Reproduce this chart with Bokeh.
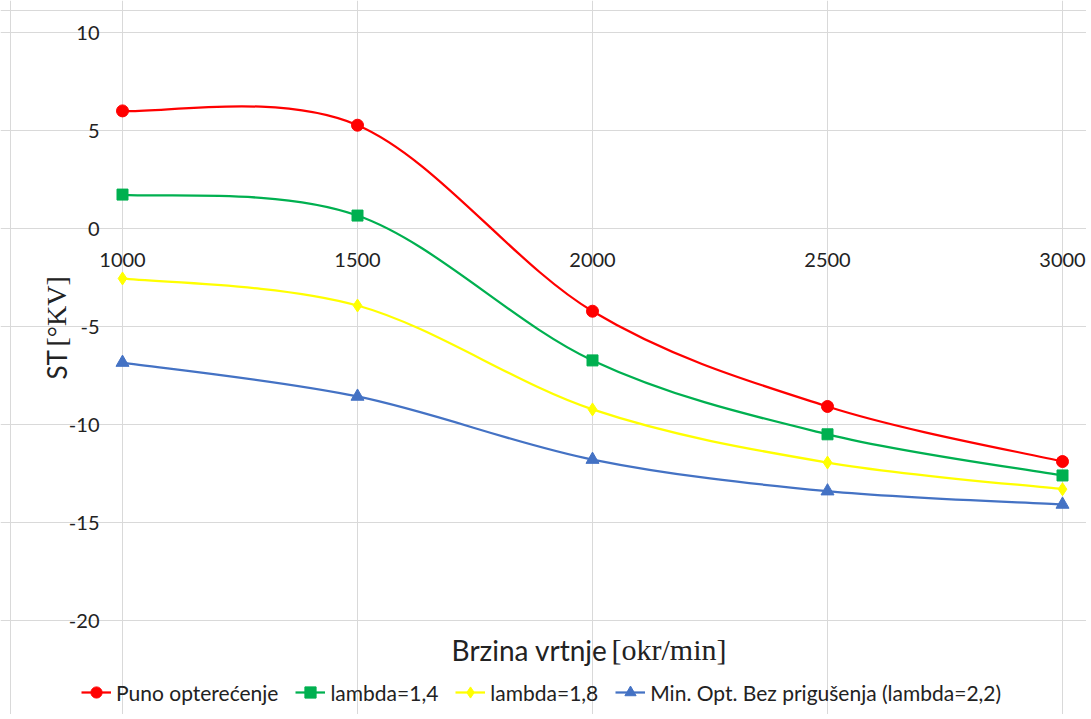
from bokeh.plotting import figure
from bokeh.models import Range1d, FixedTicker, Legend, LegendItem, Span
from bokeh.core.properties import value
from bokeh.embed import file_html
from bokeh.resources import INLINE

# ---- data ----
speeds = [1000, 1500, 2000, 2500, 3000]
x_tick_labels = ["1000", "1500", "2000", "2500", "3000"]
y_ticks = [-20, -15, -10, -5, 0, 5, 10]
y_tick_labels = ["-20", "-15", "-10", "-5", "0", "5", "10"]
puno = [6.0, 5.27, -4.22, -9.08, -11.89]
lam14 = [1.73, 0.66, -6.73, -10.5, -12.6]
lam18 = [-2.55, -3.93, -9.23, -11.94, -13.3]
lam22 = [-6.84, -8.57, -11.79, -13.4, -14.08]
series_names = ["Puno opterećenje", "lambda=1,4", "lambda=1,8",
                "Min. Opt. Bez prigušenja (lambda=2,2)"]
colors = ["#FF0000", "#00B050", "#FFFF00", "#4472C4"]
markers = ["circle", "square", "diamond", "triangle"]
msizes = [12, 11, 13, 13]

# ---- layout (page pixels -> data) ----
OX, OY = 1, 1           # canvas origin on the page (measured)
W, H = 1086, 714
PX_L, PX_R = 123, 1063  # plot-area x pixels of 1000 and 3000
PY_T, PY_B = 33, 621    # plot-area y pixels of 10 and -20
XA, XB = speeds[0], speeds[-1]
YA, YB = y_ticks[0], y_ticks[-1]

def dx(px):
    return XA + (px - PX_L) * (XB - XA) / (PX_R - PX_L)

def dy(py):
    return YB - (py - PY_T) * (YB - YA) / (PY_B - PY_T)

FONT = value("Lato")
SERIF = value("Liberation Serif")
TXT = "#222222"

p = figure(width=W, height=H, output_backend="svg", toolbar_location=None,
           x_range=Range1d(dx(OX), dx(OX + W)),
           y_range=Range1d(dy(OY + H), dy(OY)),
           min_border=0)
p.outline_line_color = None
p.xaxis.visible = False
p.yaxis.visible = False
p.xgrid.ticker = FixedTicker(ticks=speeds)
p.ygrid.ticker = FixedTicker(ticks=y_ticks)
p.grid.grid_line_color = "#d9d9d9"
p.grid.grid_line_width = 1
p.xgrid.bounds = (XA, XB)
p.ygrid.bounds = (YA, YB)

# chart-area border (top and left edges visible)
p.add_layout(Span(location=dx(11), dimension="height", line_color="#d9d9d9", line_width=1))
p.add_layout(Span(location=dy(11), dimension="width", line_color="#d9d9d9", line_width=1))

items = []
for ys, name, col, mk, ms in zip([puno, lam14, lam18, lam22], series_names,
                                 colors, markers, msizes):
    n = len(speeds)
    x0s, y0s, x1s, y1s, cx0, cy0, cx1, cy1 = [], [], [], [], [], [], [], []
    for i in range(n - 1):
        pi_ = i - 1 if i > 0 else i
        ni = i + 2 if i + 2 < n else i + 1
        x0s.append(speeds[i]); y0s.append(ys[i])
        x1s.append(speeds[i + 1]); y1s.append(ys[i + 1])
        cx0.append(speeds[i] + (speeds[i + 1] - speeds[pi_]) / 6)
        cy0.append(ys[i] + (ys[i + 1] - ys[pi_]) / 6)
        cx1.append(speeds[i + 1] - (speeds[ni] - speeds[i]) / 6)
        cy1.append(ys[i + 1] - (ys[ni] - ys[i]) / 6)
    r1 = p.bezier(x0=x0s, y0=y0s, x1=x1s, y1=y1s, cx0=cx0, cy0=cy0,
                  cx1=cx1, cy1=cy1, line_color=col, line_width=2.25)
    r2 = p.scatter(speeds, ys, marker=mk, size=ms, fill_color=col,
                   line_color=col)
    items.append(LegendItem(label=name, renderers=[r1, r2]))

legend = Legend(items=items, orientation="horizontal",
                location=(82 - OX, OY + H - 707),
                glyph_width=30, glyph_height=28, label_standoff=5, spacing=17,
                padding=0, margin=0, border_line_color=None,
                background_fill_alpha=0, label_text_font="Lato",
                label_text_font_size="21px", label_text_color=TXT)
p.add_layout(legend, "center")

# y tick labels
p.text(x=[XA] * len(y_ticks), y=y_ticks, text=y_tick_labels, x_offset=-23,
       text_align="right", text_baseline="middle", text_font=FONT,
       text_font_size="20px", text_color=TXT)
# x tick labels, at the zero line
p.text(x=speeds, y=[0] * len(speeds), text=x_tick_labels, y_offset=31,
       text_align="center", text_baseline="middle", text_font=FONT,
       text_font_size="20px", text_color=TXT)

# axis titles
p.text(x=[dx(608)], y=[dy(650)], text=["Brzina vrtnje"], text_align="right",
       text_baseline="alphabetic", text_font=FONT, text_font_size="28px",
       text_color=TXT)
p.text(x=[dx(612)], y=[dy(650)], text=["[okr/min]"], text_align="left",
       text_baseline="alphabetic", text_font=SERIF, text_font_size="30px",
       text_color=TXT)
p.text(x=[dx(57)], y=[dy(380)], text=["ST"], angle=90, angle_units="deg",
       text_align="left", text_baseline="alphabetic", text_font=FONT,
       text_font_size="26px", text_color=TXT)
p.text(x=[dx(57)], y=[dy(347)], text=["[°KV]"], angle=90, angle_units="deg",
       text_align="left", text_baseline="alphabetic", text_font=SERIF,
       text_font_size="28px", text_color=TXT)

open("out.html", "w").write(file_html(p, INLINE))
